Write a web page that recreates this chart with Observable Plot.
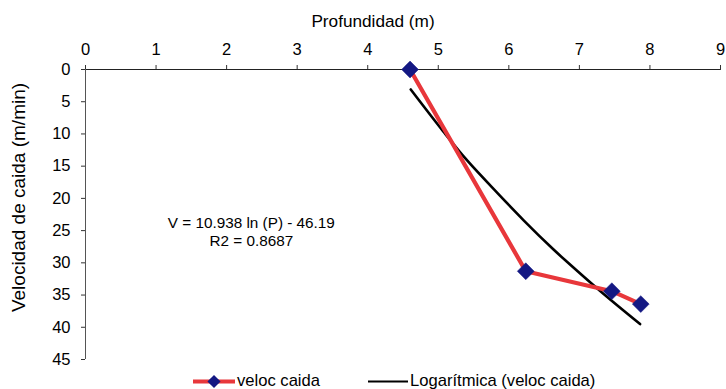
<!DOCTYPE html>
<html><head><meta charset="utf-8">
<script src="https://cdn.jsdelivr.net/npm/d3@7"></script>
<script src="https://cdn.jsdelivr.net/npm/@observablehq/plot@0.6"></script>
<style>
body{margin:0;background:#fff;width:726px;height:389px;overflow:hidden;position:relative;
  font-family:"Liberation Sans",Arial,sans-serif;}
#chart{position:absolute;left:0;top:0;}
#legend{position:absolute;left:0;top:370px;width:726px;height:22px;font-size:16.6px;color:#000;}
.item{position:absolute;top:0;height:22px;line-height:22px;white-space:nowrap;}
.item svg{position:absolute;top:0;}
.item span{position:absolute;top:0;}
</style></head><body><div id="chart"></div><div id="legend"></div>
<script>
const depth = [4.60, 6.24, 7.46, 7.87];
const speed = [0, 31.3, 34.4, 36.4];
const trendDepth = [4.61, 5.07, 5.40, 5.85, 6.21, 6.63, 6.82, 7.34, 7.86];
const trendSpeed = [3.1, 9.6, 14.0, 19.3, 23.4, 27.9, 29.8, 34.8, 39.5];
const xTicks = [0, 1, 2, 3, 4, 5, 6, 7, 8, 9];
const yTicks = [0, 5, 10, 15, 20, 25, 30, 35, 40, 45];
const seriesNames = ["veloc caida", "Logarítmica (veloc caida)"];
const eqLines = ["V = 10.938 ln (P) - 46.19", "R2 = 0.8687"];
const xTitle = "Profundidad (m)";
const yTitle = "Velocidad de caida (m/min)";

const RED = "#e8373b", NAVY = "#141883";
const data = depth.map((d, i) => ({depth: d, speed: speed[i]}));
const trend = trendDepth.map((d, i) => ({depth: d, speed: trendSpeed[i]}));
const font = '"Liberation Sans",Arial,sans-serif';

const chart = Plot.plot({
  width: 726, height: 366,
  marginTop: 69, marginLeft: 85, marginRight: 6, marginBottom: 7,
  style: {fontFamily: font, fontSize: "16.5px", color: "#000", background: "#fff", overflow: "visible"},
  x: {domain: [0, 9]},
  y: {domain: [0, 45], reverse: true},
  marks: [
    Plot.axisX(xTicks, {anchor: "top", tickSize: 5, tickPadding: 10, label: null, stroke: "#333"}),
    Plot.axisY(yTicks, {anchor: "left", tickSize: 4, tickPadding: 11, label: null, stroke: "#333"}),
    Plot.ruleY([0], {stroke: "#222", strokeWidth: 1}),
    Plot.ruleX([0], {stroke: "#555", strokeWidth: 1}),
    Plot.line(trend, {x: "depth", y: "speed", stroke: "#000", strokeWidth: 2.6, curve: "catmull-rom"}),
    Plot.line(data, {x: "depth", y: "speed", stroke: RED, strokeWidth: 4.2}),
    Plot.dot(data, {x: "depth", y: "speed", symbol: "diamond2", r: 7.6, fill: NAVY, stroke: NAVY, strokeWidth: 0.5}),
    Plot.text([eqLines[0]], {x: 2.35, y: 23.8, text: d => d, fill: "#000", fontSize: 15.3, lineAnchor: "middle"}),
    Plot.text([eqLines[1]], {x: 2.35, y: 26.7, text: d => d, fill: "#000", fontSize: 15.3, lineAnchor: "middle"}),
    Plot.text([xTitle], {frameAnchor: "top", text: d => d, dx: -30, dy: -48, lineAnchor: "middle", textAnchor: "middle", fontSize: 17.2, fill: "#000"}),
    Plot.text([yTitle], {frameAnchor: "left", text: d => d, dx: -67, dy: -17, rotate: -90, lineAnchor: "middle", textAnchor: "middle", fontSize: 19, fill: "#000"})
  ]
});
document.getElementById("chart").appendChild(chart);

// Legend
const legend = d3.select("#legend");
const it1 = legend.append("div").attr("class", "item").style("left", "192px");
const s1 = it1.append("svg").attr("width", 45).attr("height", 22);
s1.append("line").attr("x1", 1).attr("x2", 43).attr("y1", 11.5).attr("y2", 11.5).attr("stroke", RED).attr("stroke-width", 4);
s1.append("path").attr("d", d3.symbol(d3.symbolDiamond2, 110)()).attr("transform", "translate(22,11.5)").attr("fill", NAVY);
it1.append("span").style("left", "45px").text(seriesNames[0]);
const it2 = legend.append("div").attr("class", "item").style("left", "367px");
const s2 = it2.append("svg").attr("width", 43).attr("height", 22);
s2.append("line").attr("x1", 1).attr("x2", 41).attr("y1", 11.5).attr("y2", 11.5).attr("stroke", "#000").attr("stroke-width", 2);
it2.append("span").style("left", "43px").text(seriesNames[1]);
</script></body></html>
